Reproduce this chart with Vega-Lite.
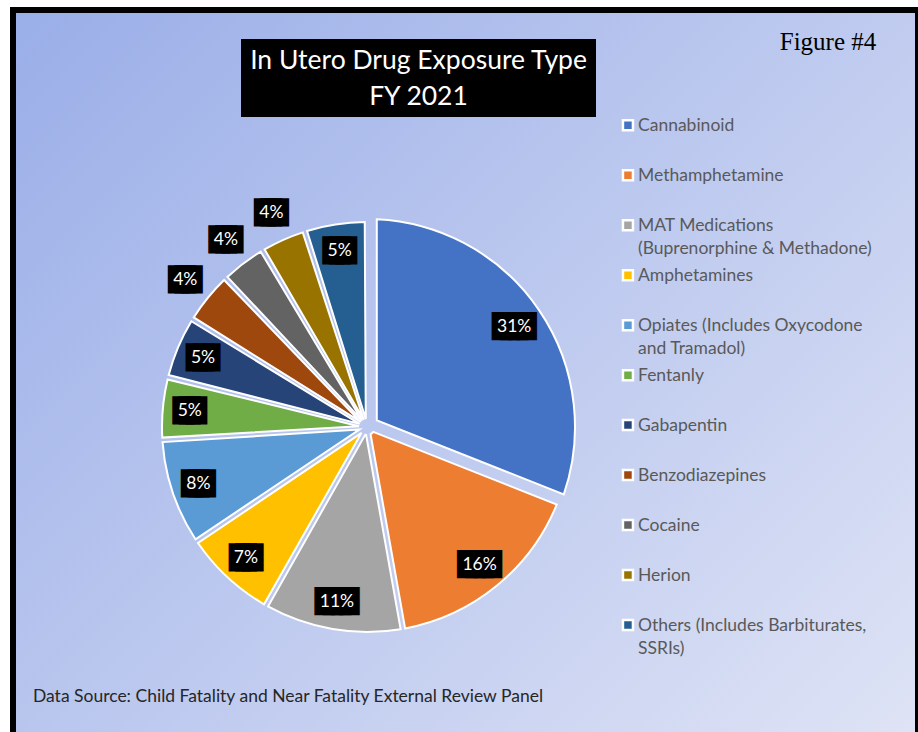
{
  "$schema": "https://vega.github.io/schema/vega-lite/v6.json",
  "padding": {"left": 10, "top": 7, "right": 0, "bottom": 0},
  "background": "white",
  "config": {
    "view": {"stroke": null},
    "concat": {"spacing": 0},
    "style": {"guide-label": {"lineHeight": 22.5}}
  },
  "datasets": {
    "drugs": [
      {"order": 1, "drug": "Cannabinoid", "share": 0.31},
      {"order": 2, "drug": "Methamphetamine", "share": 0.162},
      {"order": 3, "drug": "MAT Medications (Buprenorphine & Methadone)", "share": 0.11},
      {"order": 4, "drug": "Amphetamines", "share": 0.074},
      {"order": 5, "drug": "Opiates (Includes Oxycodone and Tramadol)", "share": 0.084},
      {"order": 6, "drug": "Fentanly", "share": 0.049},
      {"order": 7, "drug": "Gabapentin", "share": 0.049},
      {"order": 8, "drug": "Benzodiazepines", "share": 0.041},
      {"order": 9, "drug": "Cocaine", "share": 0.036},
      {"order": 10, "drug": "Herion", "share": 0.036},
      {"order": 11, "drug": "Others (Includes Barbiturates, SSRIs)", "share": 0.049}
    ]
  },
  "spacing": 0,
  "resolve": {"scale": {"color": "independent"}, "legend": {"color": "independent"}},
  "hconcat": [
    {
      "width": 6, "height": 725,
      "view": {"fill": "black"},
      "data": {"values": []},
      "mark": {"type": "text"}
    },
    {
      "spacing": 0,
      "resolve": {"scale": {"color": "independent"}, "legend": {"color": "independent"}},
      "vconcat": [
        {
          "width": 899, "height": 6,
          "view": {"fill": "black"},
          "data": {"values": []},
          "mark": {"type": "text"}
        },
        {
          "spacing": 0,
          "resolve": {"scale": {"color": "independent"}, "legend": {"color": "independent"}},
          "hconcat": [
            {
              "spacing": 0,
              "vconcat": [
                {
                  "spacing": 0,
                  "hconcat": [
                    {
                      "width": 225, "height": 179,
                      "view": {"fill": {"gradient": "linear", "x1": 0, "y1": 0, "x2": 4.4040, "y2": 3.5036, "stops": [{"offset": 0, "color": "#9aaee8"}, {"offset": 1, "color": "#dee3f5"}]}},
                      "data": {"values": []},
                      "mark": {"type": "text"}
                    },
                    {
                      "spacing": 0,
                      "vconcat": [
                        {
                          "width": 355, "height": 26,
                          "view": {"fill": {"gradient": "linear", "x1": -0.63043, "y1": -0.046172, "x2": 3.9030, "y2": 0.28586, "stops": [{"offset": 0, "color": "#9aaee8"}, {"offset": 1, "color": "#dee3f5"}]}},
                          "data": {"values": []},
                          "mark": {"type": "text"}
                        },
                        {
                          "width": 355, "height": 44,
                          "view": {"fill": "black"},
                          "data": {"values": [{}]},
                          "mark": {"type": "text", "text": "In Utero Drug Exposure Type", "font": "Lato", "fontSize": 26.5, "color": "white", "align": "center", "baseline": "middle"}
                        },
                        {
                          "width": 355, "height": 28,
                          "view": {"fill": "black"},
                          "data": {"values": [{}]},
                          "mark": {"type": "text", "text": "FY 2021", "font": "Lato", "fontSize": 26.5, "color": "white", "align": "center", "baseline": "middle"}
                        },
                        {
                          "width": 355, "height": 6,
                          "view": {"fill": "black"},
                          "data": {"values": []},
                          "mark": {"type": "text"}
                        },
                        {
                          "width": 355, "height": 75,
                          "view": {"fill": {"gradient": "linear", "x1": -0.88715, "y1": -0.18743, "x2": 3.4758, "y2": 0.73433, "stops": [{"offset": 0, "color": "#9aaee8"}, {"offset": 1, "color": "#dee3f5"}]}},
                          "data": {"values": []},
                          "mark": {"type": "text"}
                        }
                      ]
                    },
                    {
                      "width": 14, "height": 179,
                      "view": {"fill": {"gradient": "linear", "x1": -0.25188, "y1": -3.22051, "x2": 0.45078, "y2": 5.76360, "stops": [{"offset": 0, "color": "#9aaee8"}, {"offset": 1, "color": "#dee3f5"}]}},
                      "data": {"values": []},
                      "mark": {"type": "text"}
                    }
                  ]
                },
                {
                  "spacing": 0,
                  "hconcat": [
                    {
                      "width": 108, "height": 470,
                      "view": {"fill": {"gradient": "linear", "x1": -0.083126, "y1": -0.36175, "x2": 0.66826, "y2": 2.90811, "stops": [{"offset": 0, "color": "#9aaee8"}, {"offset": 1, "color": "#dee3f5"}]}},
                      "data": {"values": []},
                      "mark": {"type": "text"}
                    },
                    {
                      "width": 486, "height": 470,
                      "view": {"fill": {"gradient": "linear", "x1": -0.30515, "y1": -0.29510, "x2": 1.41517, "y2": 1.36857, "stops": [{"offset": 0, "color": "#9aaee8"}, {"offset": 1, "color": "#dee3f5"}]}},
                      "data": {"name": "drugs"},
                      "encoding": {
                        "theta": {"field": "share", "type": "quantitative", "stack": true},
                        "order": {"field": "order", "type": "quantitative"}
                      },
                      "layer": [
                        {
                          "mark": {"type": "arc", "outerRadius": 205, "innerRadius": 8, "padAngle": 0.022, "stroke": "white", "strokeWidth": 2},
                          "encoding": {
                            "color": {"field": "drug", "type": "nominal", "legend": null,
                              "scale": {"domain": ["Cannabinoid", "Methamphetamine", "MAT Medications (Buprenorphine & Methadone)", "Amphetamines", "Opiates (Includes Oxycodone and Tramadol)", "Fentanly", "Gabapentin", "Benzodiazepines", "Cocaine", "Herion", "Others (Includes Barbiturates, SSRIs)"],
                                        "range": ["#4472C4", "#ED7D31", "#A5A5A5", "#FFC000", "#5B9BD5", "#70AD47", "#264478", "#9E480E", "#636363", "#997300", "#255E91"]}},
                            "opacity": {"condition": {"test": "datum.drug === 'Cannabinoid'", "value": 0}, "value": 1}
                          }
                        },
                        {
                          "mark": {"type": "arc", "outerRadius": 208, "innerRadius": 12, "padAngle": 0.094, "stroke": "white", "strokeWidth": 2},
                          "encoding": {
                            "color": {"field": "drug", "type": "nominal", "legend": null,
                              "scale": {"domain": ["Cannabinoid", "Methamphetamine", "MAT Medications (Buprenorphine & Methadone)", "Amphetamines", "Opiates (Includes Oxycodone and Tramadol)", "Fentanly", "Gabapentin", "Benzodiazepines", "Cocaine", "Herion", "Others (Includes Barbiturates, SSRIs)"],
                                        "range": ["#4472C4", "#ED7D31", "#A5A5A5", "#FFC000", "#5B9BD5", "#70AD47", "#264478", "#9E480E", "#636363", "#997300", "#255E91"]}},
                            "opacity": {"condition": {"test": "datum.drug === 'Cannabinoid'", "value": 1}, "value": 0}
                          }
                        },
                        {
                          "mark": {"type": "text", "radius": 178, "font": "DejaVu Sans Mono", "fill": "black", "stroke": "black", "strokeJoin": "miter", "align": "center", "baseline": "middle"},
                          "encoding": {
                            "text": {"condition": [{"test": "indexof(['Benzodiazepines','Cocaine','Herion'], datum.drug) >= 0", "value": ""}, {"test": "datum.share >= 0.1", "value": "████"}], "value": "███"},
                            "size": {"condition": [{"test": "indexof(['Benzodiazepines','Cocaine','Herion'], datum.drug) >= 0", "value": 0}, {"test": "datum.share >= 0.1", "value": 13.7}], "value": 10.9},
                            "strokeWidth": {"condition": [{"test": "indexof(['Benzodiazepines','Cocaine','Herion'], datum.drug) >= 0", "value": 0}, {"test": "datum.share >= 0.1", "value": 12.1}], "value": 15.3}
                          }
                        },
                        {
                          "mark": {"type": "text", "radius": 178, "font": "Lato", "fill": "white", "align": "center", "baseline": "middle"},
                          "encoding": {
                            "text": {"field": "share", "type": "quantitative", "format": ".0%", "condition": {"test": "indexof(['Benzodiazepines','Cocaine','Herion'], datum.drug) >= 0", "value": ""}},
                            "size": {"condition": {"test": "indexof(['Benzodiazepines','Cocaine','Herion'], datum.drug) >= 0", "value": 0}, "value": 17.5}
                          }
                        },
                        {
                          "mark": {"type": "text", "radius": 234, "font": "DejaVu Sans Mono", "fill": "black", "stroke": "black", "strokeJoin": "miter", "align": "center", "baseline": "middle"},
                          "encoding": {
                            "text": {"condition": {"test": "indexof(['Benzodiazepines','Cocaine','Herion'], datum.drug) >= 0", "value": "███"}, "value": ""},
                            "size": {"condition": {"test": "indexof(['Benzodiazepines','Cocaine','Herion'], datum.drug) >= 0", "value": 10.9}, "value": 0},
                            "strokeWidth": {"condition": {"test": "indexof(['Benzodiazepines','Cocaine','Herion'], datum.drug) >= 0", "value": 15.3}, "value": 0}
                          }
                        },
                        {
                          "mark": {"type": "text", "radius": 234, "font": "Lato", "fill": "white", "align": "center", "baseline": "middle"},
                          "encoding": {
                            "text": {"field": "share", "type": "quantitative", "format": ".0%", "condition": {"test": "indexof(['Benzodiazepines','Cocaine','Herion'], datum.drug) < 0", "value": ""}},
                            "size": {"condition": {"test": "indexof(['Benzodiazepines','Cocaine','Herion'], datum.drug) >= 0", "value": 17.5}, "value": 0}
                          }
                        }
                      ]
                    }
                  ]
                },
                {
                  "spacing": 0,
                  "hconcat": [
                    {
                      "width": 544, "height": 70,
                      "view": {"fill": {"gradient": "linear", "x1": -1.17358, "y1": -0.15101, "x2": 1.75223, "y2": 0.22547, "stops": [{"offset": 0, "color": "#9aaee8"}, {"offset": 1, "color": "#dee3f5"}]}},
                      "data": {"values": [{}]},
                      "mark": {"type": "text", "text": "Data Source: Child Fatality and Near Fatality External Review Panel", "font": "Lato", "fontSize": 17.5, "color": "#262626", "align": "center", "baseline": "middle"}
                    },
                    {
                      "width": 50, "height": 70,
                      "view": {"fill": {"gradient": "linear", "x1": -8.0608, "y1": -11.2851, "x2": 2.8716, "y2": 4.0203, "stops": [{"offset": 0, "color": "#9aaee8"}, {"offset": 1, "color": "#dee3f5"}]}},
                      "data": {"values": []},
                      "mark": {"type": "text"}
                    }
                  ]
                }
              ]
            },
            {
              "spacing": 0,
              "resolve": {"scale": {"color": "independent"}, "legend": {"color": "independent"}},
              "vconcat": [
                {
                  "spacing": 0,
                  "hconcat": [
                    {
                      "width": 131, "height": 58,
                      "view": {"fill": {"gradient": "linear", "x1": -3.7912, "y1": -1.6785, "x2": 6.5357, "y2": 2.8936, "stops": [{"offset": 0, "color": "#9aaee8"}, {"offset": 1, "color": "#dee3f5"}]}},
                      "data": {"values": []},
                      "mark": {"type": "text"}
                    },
                    {
                      "width": 174, "height": 58,
                      "view": {"fill": {"gradient": "linear", "x1": -3.75, "y1": -1.25, "x2": 4.6190, "y2": 1.5396, "stops": [{"offset": 0, "color": "#9aaee8"}, {"offset": 1, "color": "#dee3f5"}]}},
                      "data": {"values": [{}]},
                      "mark": {"type": "text", "text": "Figure #4", "font": "Liberation Serif", "fontSize": 25, "color": "black", "align": "center", "baseline": "middle"}
                    }
                  ]
                },
                {
                  "width": 305, "height": 661,
                  "view": {"fill": {"gradient": "linear", "x1": -0.37525, "y1": -0.81324, "x2": 0.55596, "y2": 1.20489, "stops": [{"offset": 0, "color": "#9aaee8"}, {"offset": 1, "color": "#dee3f5"}]}},
                  "data": {"name": "drugs"},
                  "mark": {"type": "text", "text": ""},
                  "encoding": {
                    "color": {"field": "drug", "type": "nominal",
                      "scale": {"domain": ["Cannabinoid", "Methamphetamine", "MAT Medications (Buprenorphine & Methadone)", "Amphetamines", "Opiates (Includes Oxycodone and Tramadol)", "Fentanly", "Gabapentin", "Benzodiazepines", "Cocaine", "Herion", "Others (Includes Barbiturates, SSRIs)"],
                                "range": ["#4472C4", "#ED7D31", "#A5A5A5", "#FFC000", "#5B9BD5", "#70AD47", "#264478", "#9E480E", "#636363", "#997300", "#255E91"]},
                      "legend": {
                        "orient": "none", "legendX": 9.2, "legendY": 51.7, "title": null, "padding": 0,
                        "labelFont": "Lato", "labelFontSize": 17.5, "labelColor": "#595959", "labelBaseline": "alphabetic", "labelOffset": 1.3, "labelLimit": 400,
                        "symbolType": "M-1,-2.22H1V-0.22H-1Z", "symbolSize": 100, "symbolStrokeColor": "white", "symbolStrokeWidth": 2.5, "symbolOpacity": 1,
                        "rowPadding": 6.96, "gridAlign": "all",
                        "labelExpr": "datum.label == 'MAT Medications (Buprenorphine & Methadone)' ? ['MAT Medications', '(Buprenorphine & Methadone)'] : datum.label == 'Opiates (Includes Oxycodone and Tramadol)' ? ['Opiates (Includes Oxycodone', 'and Tramadol)'] : datum.label == 'Others (Includes Barbiturates, SSRIs)' ? ['Others (Includes Barbiturates,', 'SSRIs)'] : datum.label"
                      }
                    }
                  }
                }
              ]
            }
          ]
        }
      ]
    },
    {
      "width": 3, "height": 725,
      "view": {"fill": "black"},
      "data": {"values": []},
      "mark": {"type": "text"}
    }
  ]
}
